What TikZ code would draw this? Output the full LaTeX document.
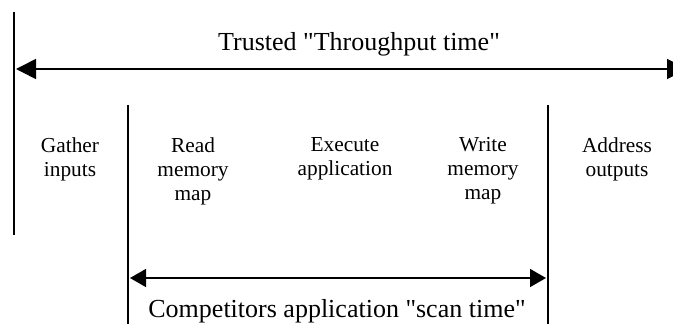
\documentclass[tikz,border=0pt]{standalone}
\usepackage{fontspec}
\setmainfont{Liberation Serif}
\usetikzlibrary{arrows.meta}

\begin{document}
\begin{tikzpicture}[x=0.75pt,y=-0.75pt,
    bar/.style={line width=2pt},
    bigspan/.style={line width=1.2pt,{Triangle[length=15pt,width=15pt]}-{Triangle[length=15pt,width=15pt]}},
    smallspan/.style={line width=1.2pt,{Triangle[length=12pt,width=13.5pt]}-{Triangle[length=12pt,width=13.5pt]}},
    title/.style={font=\fontsize{19.5}{23}\selectfont,anchor=base,inner sep=0pt},
    phase/.style={font=\fontsize{16}{18}\selectfont,align=center,anchor=north,inner sep=0pt}]
    \clip (0,0) rectangle (673,324);

    % boundaries
    \coordinate (trustTop) at (14,12);
    \coordinate (trustBot) at (14,235);
    \coordinate (scanLTop) at (128,105);
    \coordinate (scanLBot) at (128,324);
    \coordinate (scanRTop) at (548,105);
    \coordinate (scanRBot) at (548,324);
    \draw[bar](trustTop)--(trustBot);
    \draw[bar](scanLTop)--(scanLBot);
    \draw[bar](scanRTop)--(scanRBot);

    % spans
    \coordinate (trustL) at (16,69);
    \coordinate (trustR) at (687,69);
    \coordinate (scanL) at (130,278);
    \coordinate (scanR) at (546,278);
    \draw[bigspan](trustL)--(trustR);
    \draw[smallspan](scanL)--(scanR);

    \node[title] (trusted) at (359,51) {Trusted \textquotedbl Throughput time\textquotedbl};
    \node[title] (competitors) at (337,317) {Competitors application \textquotedbl scan time\textquotedbl};

    % phases
    \node[phase] (gather) at (70,137.5) {Gather\\inputs};
    \node[phase] (readmap) at (193,137.5) {Read\\memory\\map};
    \node[phase] (execute) at (345,137.5) {Execute\\application};
    \node[phase] (writemap) at (483,137.5) {Write\\memory\\map};
    \node[phase] (address) at (617,137.5) {Address\\outputs};
\end{tikzpicture}
\end{document}
